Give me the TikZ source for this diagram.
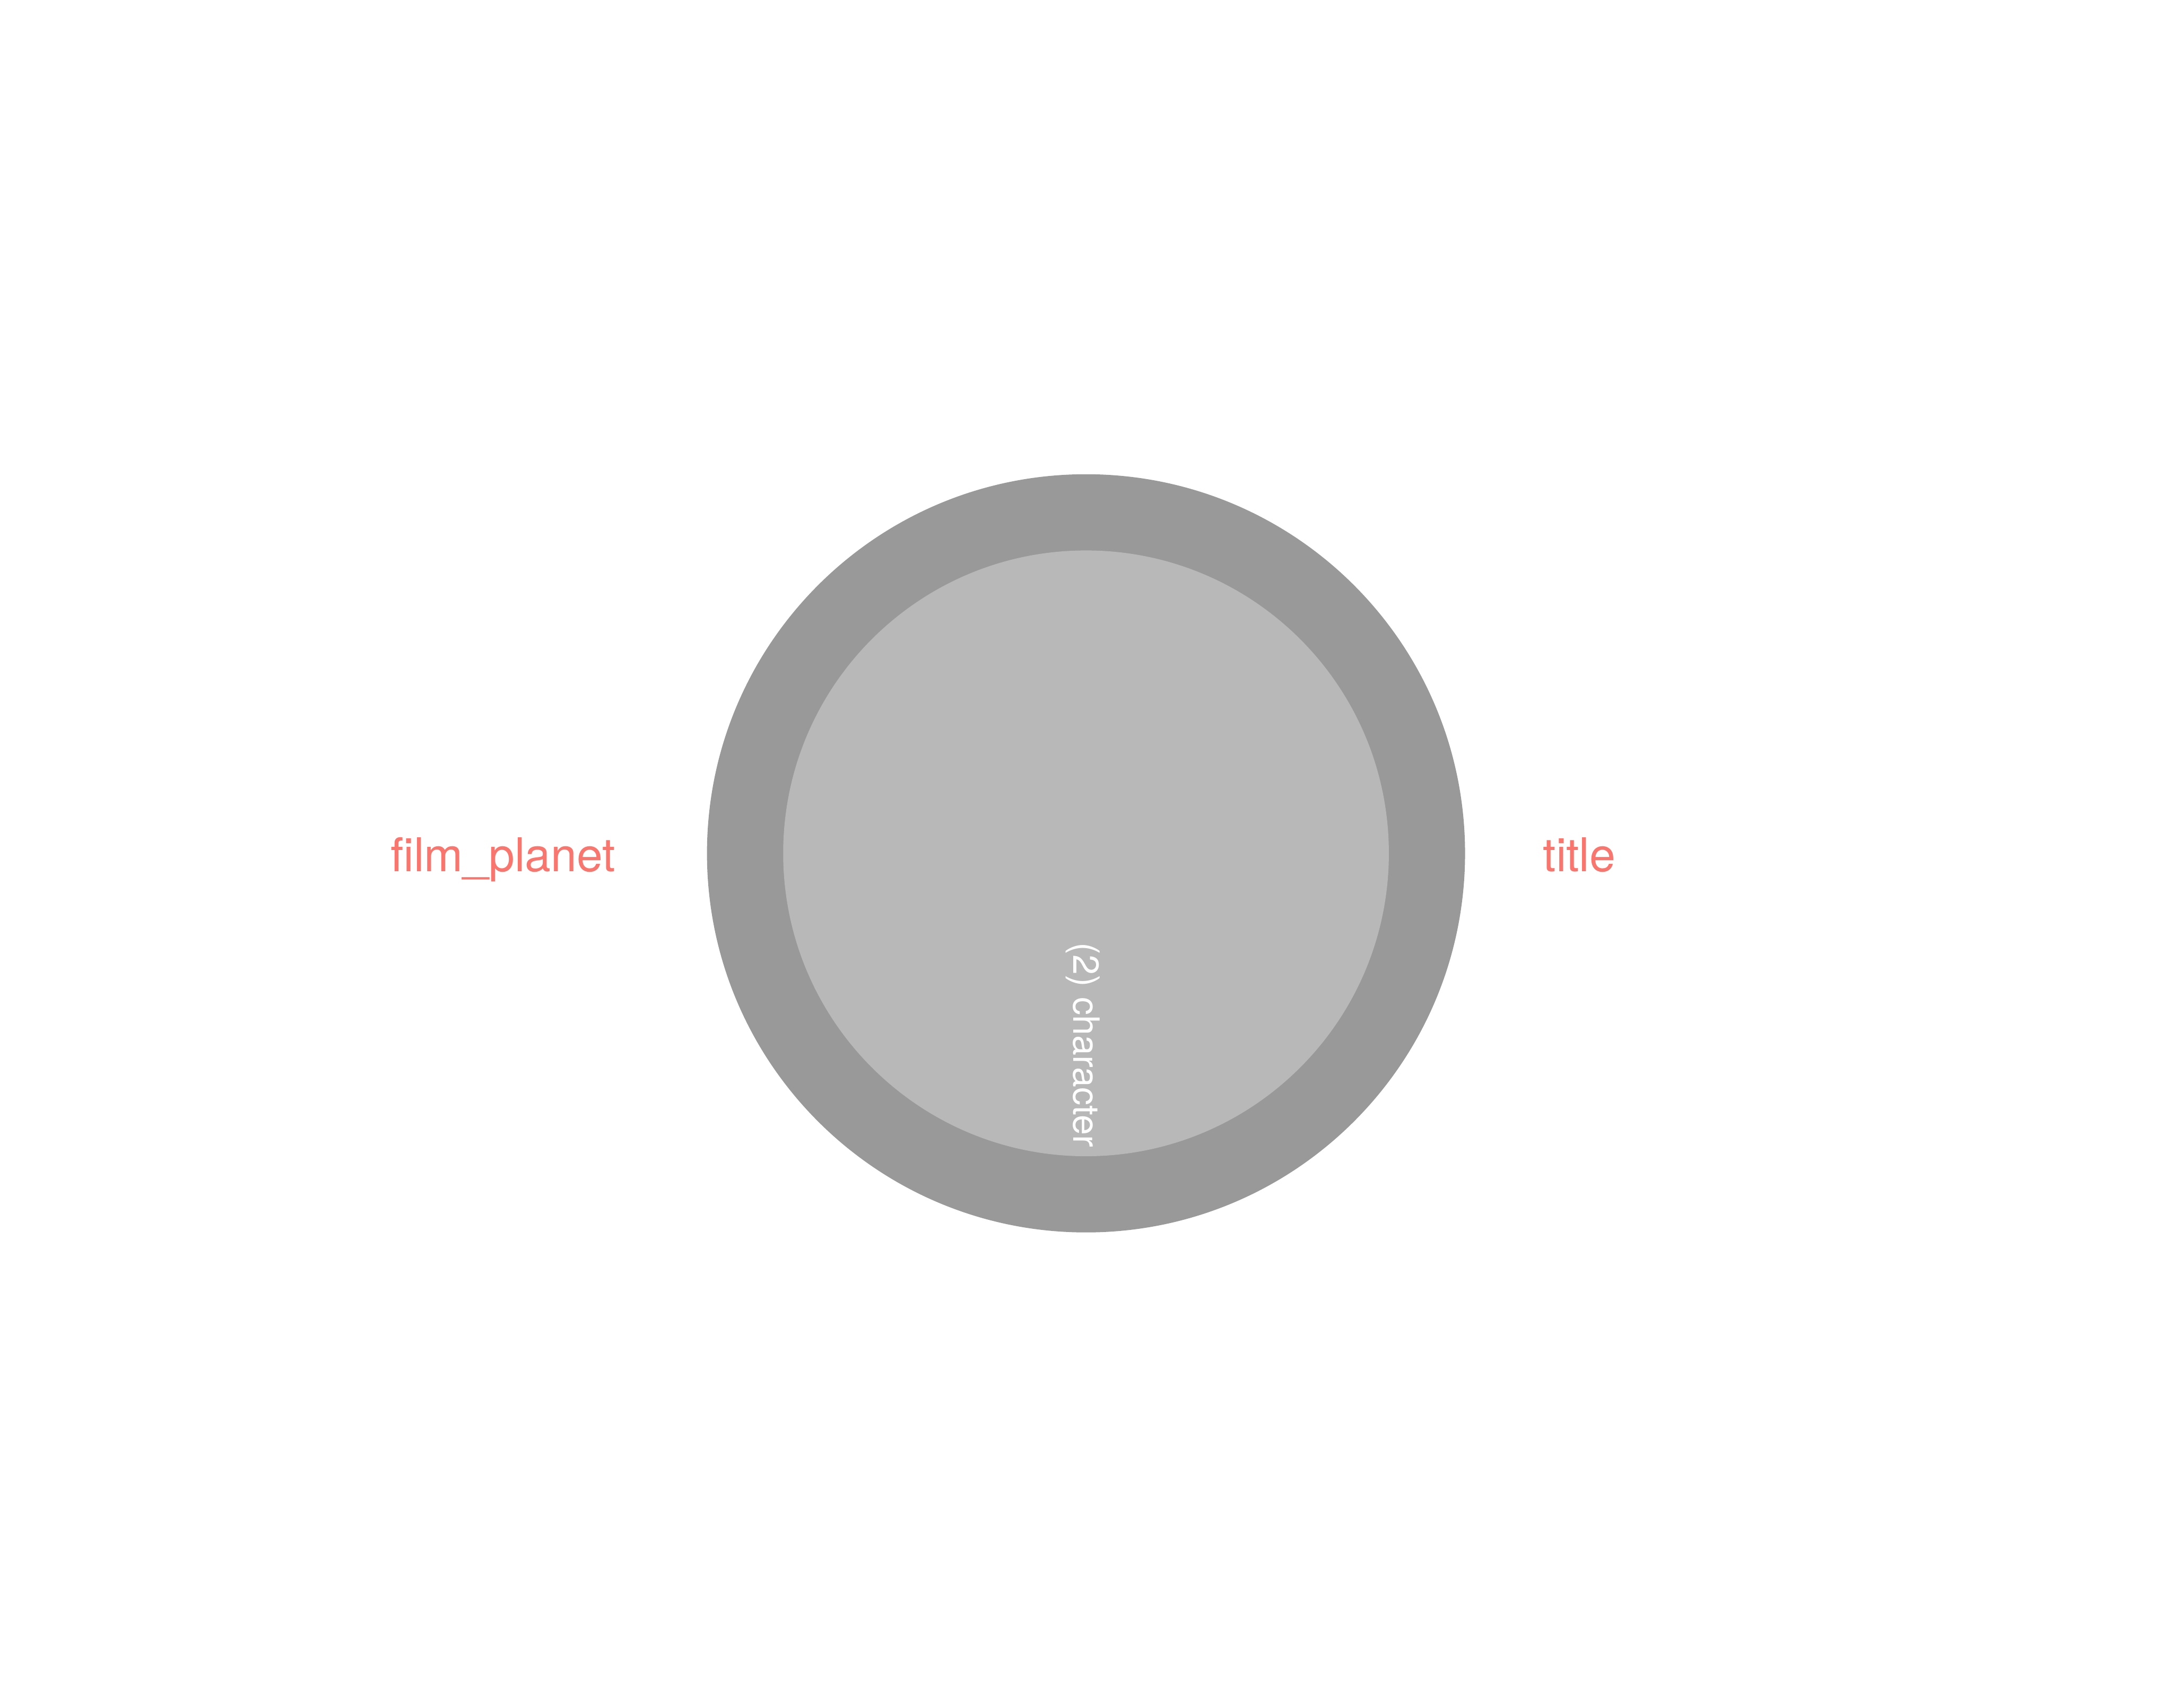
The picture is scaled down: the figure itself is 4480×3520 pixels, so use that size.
\documentclass[tikz,border=0pt]{standalone}
\usepackage{fontspec}
\setmainfont{TeX Gyre Heros}
\definecolor{outergray}{HTML}{999999}
\definecolor{innergray}{HTML}{B8B8B8}
\definecolor{labelred}{HTML}{F8766D}
\begin{document}
\begin{tikzpicture}[x=0.01cm,y=-0.01cm,
  ring/.style={circle, fill=outergray, draw=none, inner sep=0pt, minimum size=15.62cm},
  core/.style={circle, fill=innergray, draw=none, inner sep=0pt, minimum size=12.48cm},
  setlabel/.style={text=labelred, font=\fontsize{27.3}{33}\selectfont, anchor=base, inner sep=0pt},
  countlabel/.style={text=white, font=\fontsize{21.2}{25}\selectfont, rotate=-90, anchor=center, inner sep=0pt}]
\useasboundingbox (0,0) rectangle (4480,3520);
\node[ring] (outer) at (2239,1759) {};
\node[core] (inner) at (2239,1759) {};
\node[setlabel] (film) at (1037,1797) {film\_planet};
\node[setlabel] (title) at (3256,1797) {title};
\node[countlabel] (count) at (2232,2154) {(2) character};
\end{tikzpicture}
\end{document}
